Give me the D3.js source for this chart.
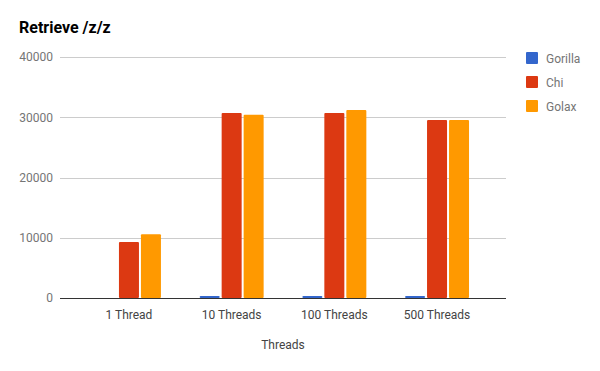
<!DOCTYPE html>
<html>
<head>
<meta charset="utf-8">
<script src="https://cdn.jsdelivr.net/npm/d3@7"></script>
<style>
  html, body { margin: 0; padding: 0; background: #fff; }
  text { font-family: Roboto, "Noto Sans", sans-serif; }
</style>
</head>
<body>
<svg id="chart" width="600" height="371"></svg>
<script>
const categories = ["1 Thread", "10 Threads", "100 Threads", "500 Threads"];
const seriesNames = ["Gorilla", "Chi", "Golax"];
const gorilla = [0, 350, 350, 350];
const chi = [9300, 30700, 30700, 29550];
const golax = [10600, 30400, 31200, 29550];
const yTicks = [0, 10000, 20000, 30000, 40000];
const colors = ["#3366cc", "#dc3912", "#ff9900"];

const seriesValues = [gorilla, chi, golax];

const svg = d3.select("#chart");
const plot = { left: 60, right: 506, top: 57, bottom: 298 };

const y = d3.scaleLinear().domain([0, 40000]).range([plot.bottom, plot.top]);
const x0 = d3.scaleBand().domain(categories).range([plot.left, plot.right])
  .paddingInner(0.377).paddingOuter(0.36);
const x1 = d3.scaleBand().domain(seriesNames).range([0, x0.bandwidth()])
  .paddingInner(0.09).paddingOuter(0);

// Title
svg.append("text").attr("x", 19).attr("y", 33)
  .attr("font-size", 16).attr("font-weight", "bold").attr("fill", "#000")
  .text("Retrieve /z/z");

// Gridlines + y labels
const yAxis = d3.axisLeft(y).tickValues(yTicks).tickFormat(d3.format("d"))
  .tickSize(-(plot.right - plot.left)).tickPadding(7);
const gy = svg.append("g").attr("transform", `translate(${plot.left},0)`).call(yAxis);
gy.select(".domain").remove();
gy.selectAll(".tick line").attr("stroke", "#cccccc").attr("shape-rendering", "crispEdges");
gy.selectAll(".tick text").attr("font-size", 12).attr("fill", "#757575")
  .attr("font-family", "Roboto, sans-serif");

// Bars
const groups = svg.append("g").selectAll("g").data(categories).join("g")
  .attr("transform", d => `translate(${x0(d)},0)`);
groups.selectAll("rect")
  .data((d, i) => seriesNames.map((s, j) => ({ s, v: seriesValues[j][i], c: colors[j] })))
  .join("rect")
  .attr("x", d => x1(d.s))
  .attr("width", x1.bandwidth())
  .attr("y", d => y(d.v))
  .attr("height", d => plot.bottom - y(d.v))
  .attr("rx", 1)
  .attr("fill", d => d.c);

// Baseline
svg.append("line").attr("x1", plot.left).attr("x2", plot.right)
  .attr("y1", y(0) + 0.5).attr("y2", y(0) + 0.5)
  .attr("stroke", "#333333").attr("stroke-width", 1);

// X axis labels
const xAxis = d3.axisBottom(x0).tickSize(0).tickPadding(12);
const gx = svg.append("g").attr("transform", `translate(0,${plot.bottom})`).call(xAxis);
gx.select(".domain").remove();
gx.selectAll(".tick text").attr("font-size", 12).attr("fill", "#444444")
  .attr("font-family", "Roboto, sans-serif");

// X axis title
svg.append("text").attr("x", 283).attr("y", 349).attr("text-anchor", "middle")
  .attr("font-size", 12).attr("fill", "#444444").text("Threads");

// Legend
const legend = svg.append("g").selectAll("g").data(seriesNames).join("g")
  .attr("transform", (d, i) => `translate(526,${52 + i * 24})`);
legend.append("rect").attr("width", 12).attr("height", 12).attr("rx", 1)
  .attr("fill", (d, i) => colors[i]);
legend.append("text").attr("x", 20).attr("y", 10.5)
  .attr("font-size", 12).attr("fill", "#757575").text(d => d);
</script>
</body>
</html>
